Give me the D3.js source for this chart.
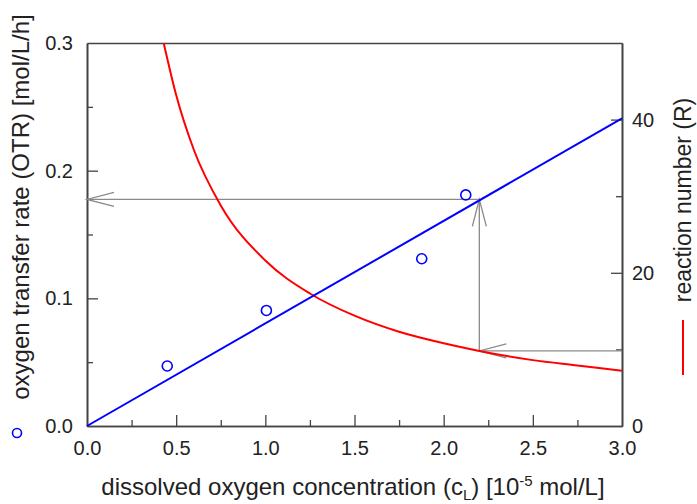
<!DOCTYPE html>
<html><head><meta charset="utf-8">
<script src="https://cdn.jsdelivr.net/npm/d3@7"></script>
<style>
body{margin:0;background:#fff;}
svg text{font-family:"Liberation Sans",Arial,sans-serif;fill:#222;}
</style></head>
<body><svg id="c" width="697" height="504"></svg>
<script>
// measured data points (OTR vs dissolved oxygen)
const pointX = [0.45, 1.006, 1.877, 2.124];
const pointOTR = [0.047, 0.0905, 0.131, 0.181];
// fitted straight line (OTR) endpoints
const lineX = [0.0, 3.0];
const lineOTR = [0.0, 0.241];
// reaction number curve
const curveX = [0.43, 0.5, 0.6, 0.75, 1.0, 1.25, 1.5, 1.75, 2.0, 2.2, 2.5, 2.75, 3.0];
const curveR = [50.0, 43.2, 36.0, 28.8, 21.6, 17.3, 14.4, 12.3, 10.8, 9.8, 8.6, 7.9, 7.2];
// graphical read-off
const readX = 2.2, readR = 9.8, readOTR = 0.1775;
const xTicks = [0, 0.5, 1.0, 1.5, 2.0, 2.5, 3.0];
const xMinor = [0.25, 0.75, 1.25, 1.75, 2.25, 2.75];
const yTicks = [0, 0.1, 0.2, 0.3];
const yMinor = [0.05, 0.15, 0.25];
const rTicks = [0, 20, 40];
const rMinor = [10, 30];

const svg = d3.select("#c");
const L=87, R=622, T=43, B=426;
const x = d3.scaleLinear([0,3],[L,R]);
const yL = d3.scaleLinear([0,0.3],[B,T]);
const yR = d3.scaleLinear([0,50],[B,T]);
const axisCol = "#444";
const fs = "20px";

function styleAxis(g){
  g.selectAll("path.domain").attr("stroke",axisCol).attr("stroke-width",1.6);
  g.selectAll(".tick line").attr("stroke",axisCol).attr("stroke-width",1.3);
  g.selectAll("text").attr("font-size",fs).attr("font-family",'"Liberation Sans",Arial,sans-serif').attr("fill","#222");
}
// minor ticks first
svg.append("g").attr("transform",`translate(0,${B})`).call(d3.axisBottom(x).tickValues(xMinor).tickSize(-6).tickSizeOuter(0).tickFormat("")).call(styleAxis);
svg.append("g").attr("transform",`translate(${L},0)`).call(d3.axisLeft(yL).tickValues(yMinor).tickSize(-6).tickSizeOuter(0).tickFormat("")).call(styleAxis);
svg.append("g").attr("transform",`translate(${R},0)`).call(d3.axisRight(yR).tickValues(rMinor).tickSize(-6).tickSizeOuter(0).tickFormat("")).call(styleAxis);
// major
svg.append("g").attr("transform",`translate(0,${B})`).call(d3.axisBottom(x).tickValues(xTicks).tickSize(-11).tickSizeOuter(0).tickPadding(15).tickFormat(d3.format(".1f"))).call(styleAxis);
svg.append("g").attr("transform",`translate(${L},0)`).call(d3.axisLeft(yL).tickValues(yTicks).tickSize(-11).tickSizeOuter(0).tickPadding(14).tickFormat(d3.format(".1f"))).call(styleAxis);
svg.append("g").attr("transform",`translate(${R},0)`).call(d3.axisRight(yR).tickValues(rTicks).tickSize(-11).tickSizeOuter(0).tickPadding(10).tickFormat(d3.format("d"))).call(styleAxis);
svg.append("g").attr("transform",`translate(0,${T})`).call(d3.axisTop(x).tickValues([]).tickSizeOuter(0)).call(styleAxis);

svg.selectAll(".tick").filter(d=>d===0 || d===3 || d===0.3).select("line").attr("stroke-opacity",0);

// gray read-off arrows
const gray = "#8a8a8a";
const ag = svg.append("g").attr("stroke",gray).attr("stroke-width",1.3).attr("fill","none");
const px = x(readX), pyR = yR(readR), pyO = yL(readOTR);
ag.append("line").attr("x1",R).attr("y1",pyR).attr("x2",px).attr("y2",pyR);
ag.append("line").attr("x1",px).attr("y1",pyR).attr("x2",px).attr("y2",pyO);
ag.append("line").attr("x1",px).attr("y1",pyO).attr("x2",L).attr("y2",pyO);
function head(tx,ty,dx,dy){ // open V head, dx,dy direction toward tail
  const len=27, w=7;
  const nx=-dy, ny=dx;
  ag.append("path").attr("d",`M${tx+dx*len+nx*w},${ty+dy*len+ny*w}L${tx},${ty}L${tx+dx*len-nx*w},${ty+dy*len-ny*w}`);
}
head(px,pyR,1,0);
head(px,pyO,0,1);
head(L,pyO,1,0);

// red curve
svg.append("path").datum(curveX.map((v,i)=>[v,curveR[i]]))
  .attr("fill","none").attr("stroke","#ff0000").attr("stroke-width",2)
  .attr("d",d3.line().x(d=>x(d[0])).y(d=>yR(d[1])).curve(d3.curveMonotoneX));
// blue line
svg.append("path").datum(lineX.map((v,i)=>[v,lineOTR[i]]))
  .attr("fill","none").attr("stroke","#0000ff").attr("stroke-width",2)
  .attr("d",d3.line().x(d=>x(d[0])).y(d=>yL(d[1])));
// points
svg.selectAll("circle.pt").data(pointX.map((v,i)=>[v,pointOTR[i]])).join("circle")
  .attr("class","pt").attr("cx",d=>x(d[0])).attr("cy",d=>yL(d[1])).attr("r",5)
  .attr("fill","none").attr("stroke","#0000ff").attr("stroke-width",1.6);

// axis titles
const tf = "24px";
svg.append("text").attr("transform","translate(29,207) rotate(-90)").attr("text-anchor","middle")
  .attr("font-size",tf).text("oxygen transfer rate (OTR) [mol/L/h]");
svg.append("circle").attr("cx",17).attr("cy",433).attr("r",4.5).attr("fill","none").attr("stroke","#0000ff").attr("stroke-width",1.6);

const xt = svg.append("text").attr("x",353).attr("y",495).attr("text-anchor","middle").attr("font-size",tf);
xt.append("tspan").text("dissolved oxygen concentration (c");
xt.append("tspan").attr("font-size","15px").attr("dy",5).text("L");
xt.append("tspan").attr("dy",-5).text(") [10");
xt.append("tspan").attr("font-size","15px").attr("dy",-9).text("-5");
xt.append("tspan").attr("dy",9).text(" mol/L]");

svg.append("text").attr("transform","translate(691,200) rotate(-90)").attr("text-anchor","middle")
  .attr("font-size","23px").text("reaction number (R)");
svg.append("line").attr("x1",683).attr("x2",683).attr("y1",320).attr("y2",375).attr("stroke","#ff0000").attr("stroke-width",2);
</script></body></html>
